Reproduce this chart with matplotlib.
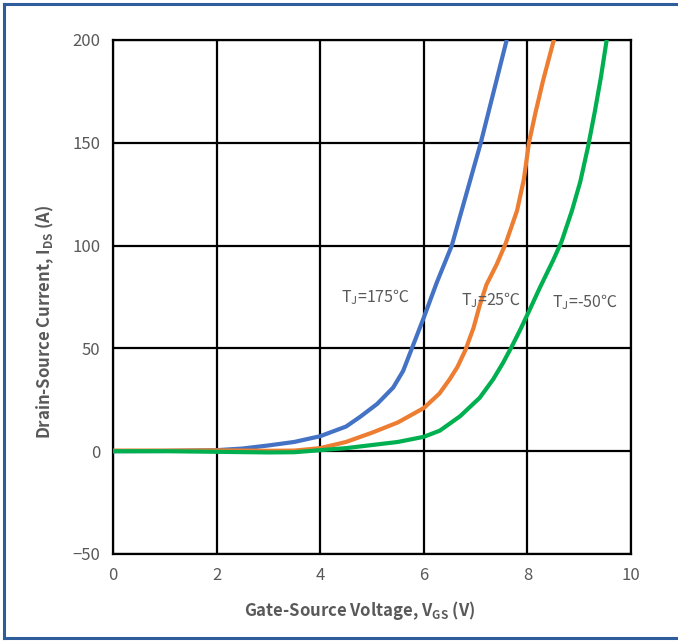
import matplotlib
matplotlib.use("Agg")
import matplotlib.pyplot as plt
from matplotlib.lines import Line2D

plt.rcParams['font.family'] = ['Noto Sans CJK SC', 'DejaVu Sans']
plt.rcParams['mathtext.default'] = 'regular'

# Transfer characteristics, Vgs (V) vs Ids (A)
vgs_175 = [0, 1, 2, 2.5, 3, 3.5, 4, 4.5, 4.77, 5.1, 5.41, 5.6, 5.77, 6.0, 6.25,
           6.54, 6.82, 7.1, 7.35, 7.6]
ids_175 = [0, 0.1, 0.5, 1.3, 2.8, 4.5, 7.3, 12, 16.7, 23, 31, 39, 50, 65, 82,
           100, 125, 150, 175, 200]

vgs_25 = [0, 1, 2, 3, 3.5, 4, 4.5, 5, 5.5, 6, 6.3, 6.5, 6.65, 6.8, 6.96, 7.08,
          7.21, 7.41, 7.58, 7.8, 7.93, 8.03, 8.15, 8.3, 8.51]
ids_25 = [0.3, 0.3, 0.4, 0.2, 0.3, 1.5, 4.5, 9, 14, 21, 28, 35, 41, 49, 60, 71,
          81, 91, 101, 117, 132, 150, 164, 180, 200]

vgs_m50 = [0, 1, 2, 3, 3.5, 4, 4.5, 5, 5.5, 6, 6.31, 6.7, 7.08, 7.34, 7.53, 7.7,
           7.86, 8.02, 8.24, 8.5, 8.66, 8.86, 9.02, 9.17, 9.3, 9.42, 9.53]
ids_m50 = [0, 0, -0.3, -0.6, -0.5, 0.5, 1.5, 3, 4.5, 7, 10, 17, 26, 35, 43, 51,
           59, 67.5, 79.5, 93, 102, 117, 131, 148, 165, 182, 200]

x_ticks = [0, 2, 4, 6, 8, 10]
y_ticks = [-50, 0, 50, 100, 150, 200]

gray = '#595959'

fig = plt.figure(figsize=(6.78, 6.42), dpi=100)
ax = fig.add_axes([113/678, 88/642, 518/678, 514/642])

for xs, ys, c in [(vgs_175, ids_175, '#4472C4'),
                  (vgs_25, ids_25, '#ED7D31'),
                  (vgs_m50, ids_m50, '#00B050')]:
    ax.plot(xs, ys, color=c, lw=3, solid_capstyle='round', solid_joinstyle='round', zorder=3)

ax.set_xlim(0, 10)
ax.set_ylim(-50, 200)
ax.set_xticks(x_ticks)
ax.set_yticks(y_ticks)
ax.grid(True, color='black', lw=1.6)
ax.set_axisbelow(True)
for s in ax.spines.values():
    s.set_color('black')
    s.set_linewidth(1.6)
ax.tick_params(length=0, labelsize=12, labelcolor=gray, pad=9)

ax.text(5.06, 75, 'T$_J$=175℃', ha='center', va='center', fontsize=11.5, color=gray)
ax.text(7.3, 73.5, 'T$_J$=25℃', ha='center', va='center', fontsize=11.5, color=gray)
ax.text(9.1, 72.5, 'T$_J$=-50℃', ha='center', va='center', fontsize=11.5, color=gray)

fig.text(360/678, 1 - 610/642, 'Gate-Source Voltage, V$_{GS}$ (V)', ha='center', va='center',
         fontsize=12, fontweight='bold', color=gray)
fig.text(45/678, 1 - 322/642, 'Drain-Source Current, I$_{DS}$ (A)', ha='center', va='center',
         rotation=90, fontsize=12, fontweight='bold', color=gray)

# blue outer frame (open on the right)
frame = '#2F5D9B'
fig.add_artist(Line2D([4/678, 4/678], [4/642, 1 - 4/642], color=frame, lw=2.2))
fig.add_artist(Line2D([4/678, 1], [1 - 4/642, 1 - 4/642], color=frame, lw=2.2))
fig.add_artist(Line2D([4/678, 1], [4/642, 4/642], color=frame, lw=2.2))

fig.savefig('out.png', dpi=100)
